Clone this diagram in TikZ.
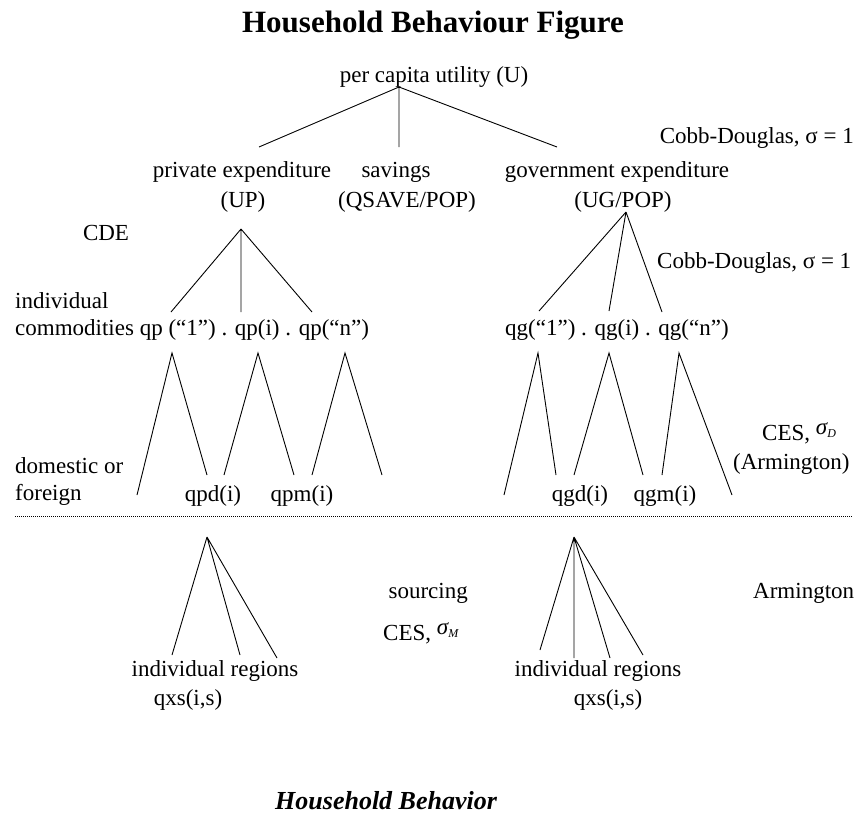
\documentclass[tikz,border=0pt]{standalone}
\usepackage{fontspec}
\setmainfont{Liberation Serif}
\newcommand{\sigsub}[1]{\raisebox{6pt}{\textit{σ}\kern-0.5pt\raisebox{-3pt}{\fontsize{12}{12}\selectfont\textit{#1}}}}
\begin{document}
\begin{tikzpicture}[x=1pt,y=-1pt,
  lbl/.style={inner sep=0pt, font=\fontsize{23}{27}\selectfont},
  tie/.style={line width=0.9pt},
  dotline/.style={line width=0.7pt, dash pattern=on 0.8pt off 1.2pt}]
\path[use as bounding box] (0,0) rectangle (856,815);
% title
\node[lbl, font=\fontsize{31}{35}\selectfont\bfseries, anchor=base] (title) at (433,32) {Household Behaviour Figure};
% level 0
\node[lbl, anchor=base] (U) at (434,82) {per capita utility (U)};
\coordinate (Ua) at (399,87);
\coordinate (UPt) at (259,147);
\coordinate (SVt) at (399,147);
\coordinate (UGt) at (557,147);
\draw[tie] (Ua) -- (UPt) (Ua) -- (SVt) (Ua) -- (UGt);
\node[lbl, anchor=base east] (cd1) at (854,143) {Cobb-Douglas, σ = 1};
% level 1
\node[lbl, anchor=base] (pe) at (242,177) {private expenditure};
\node[lbl, anchor=base] (up) at (243,207) {(UP)};
\node[lbl, anchor=base] (sv) at (396,177) {savings};
\node[lbl, anchor=base] (qs) at (407,207) {(QSAVE/POP)};
\node[lbl, anchor=base] (ge) at (617,177) {government expenditure};
\node[lbl, anchor=base] (ug) at (623,207) {(UG/POP)};
\node[lbl, anchor=base] (cde) at (106,240) {CDE};
\node[lbl, anchor=base west] (cd2) at (657,268) {Cobb-Douglas, σ = 1};
% private commodities
\coordinate (pa) at (241,229);
\coordinate (p1t) at (171,312);
\coordinate (p2t) at (241,312);
\coordinate (p3t) at (312,312);
\draw[tie] (pa) -- (p1t) (pa) -- (p2t) (pa) -- (p3t);
% government commodities
\coordinate (ga) at (626,212);
\coordinate (g1t) at (539,311);
\coordinate (g2t) at (609,311);
\coordinate (g3t) at (662,312);
\draw[tie] (ga) -- (g1t) (ga) -- (g2t) (ga) -- (g3t);
% level 2 texts
\node[lbl, anchor=base west] (ind) at (15,308) {individual};
\node[lbl, anchor=base west] (qp) at (15,335) {commodities qp (“1”) . qp(i) . qp(“n”)};
\node[lbl, anchor=base west] (qg) at (505,335) {qg(“1”) . qg(i) . qg(“n”)};
% lower triangles (private)
\coordinate (pb1) at (172,353);
\coordinate (pb2) at (258,353);
\coordinate (pb3) at (345,353);
\coordinate (pl1) at (137,495);
\coordinate (pr1) at (207,475);
\coordinate (pl2) at (224,475);
\coordinate (pr2) at (294,475);
\coordinate (pl3) at (312,475);
\coordinate (pr3) at (382,475);
\draw[tie] (pl1) -- (pb1) -- (pr1) (pl2) -- (pb2) -- (pr2) (pl3) -- (pb3) -- (pr3);
% lower triangles (government)
\coordinate (gb1) at (538,353);
\coordinate (gb2) at (609,353);
\coordinate (gb3) at (679,353);
\coordinate (gl1) at (504,495);
\coordinate (gr1) at (556,475);
\coordinate (gl2) at (574,475);
\coordinate (gr2) at (643,475);
\coordinate (gl3) at (662,475);
\coordinate (gr3) at (732,495);
\draw[tie] (gl1) -- (gb1) -- (gr1) (gl2) -- (gb2) -- (gr2) (gl3) -- (gb3) -- (gr3);
% level 3 texts
\node[lbl, anchor=base west] (dom) at (15,473) {domestic or};
\node[lbl, anchor=base west] (for) at (15,500) {foreign};
\node[lbl, anchor=base] (qpd) at (213,501) {qpd(i)};
\node[lbl, anchor=base] (qpm) at (302,501) {qpm(i)};
\node[lbl, anchor=base] (qgd) at (580,501) {qgd(i)};
\node[lbl, anchor=base] (qgm) at (665,501) {qgm(i)};
\node[lbl, anchor=base west] (cesd) at (762,440) {CES, \sigsub{D}};
\node[lbl, anchor=base west] (arm1) at (733,469) {(Armington)};
% dotted divider
\coordinate (dl) at (15,516);
\coordinate (dr) at (852,516);
\draw[dotline] (dl) -- (dr);
% sourcing private
\coordinate (qpda) at (207,537);
\coordinate (r1) at (172,655);
\coordinate (r2) at (240,655);
\coordinate (r3) at (277,658);
\draw[tie] (qpda) -- (r1) (qpda) -- (r2) (qpda) -- (r3);
% sourcing government
\coordinate (qgda) at (574,537);
\coordinate (s1) at (540,650);
\coordinate (s2) at (574,658);
\coordinate (s3) at (610,658);
\coordinate (s4) at (643,655);
\draw[tie] (qgda) -- (s1) (qgda) -- (s2) (qgda) -- (s3) (qgda) -- (s4);
% bottom texts
\node[lbl, anchor=base] (ir1) at (215,676) {individual regions};
\node[lbl, anchor=base] (qx1) at (188,705) {qxs(i,s)};
\node[lbl, anchor=base] (ir2) at (598,676) {individual regions};
\node[lbl, anchor=base] (qx2) at (608,705) {qxs(i,s)};
\node[lbl, anchor=base east] (src) at (468,598) {sourcing};
\node[lbl, anchor=base west] (cesm) at (383,640) {CES, \sigsub{M}};
\node[lbl, anchor=base west] (arm2) at (753,598) {Armington};
\node[lbl, font=\fontsize{26}{30}\selectfont\bfseries\itshape, anchor=base west] (cap) at (275,809) {Household Behavior};
\end{tikzpicture}
\end{document}
